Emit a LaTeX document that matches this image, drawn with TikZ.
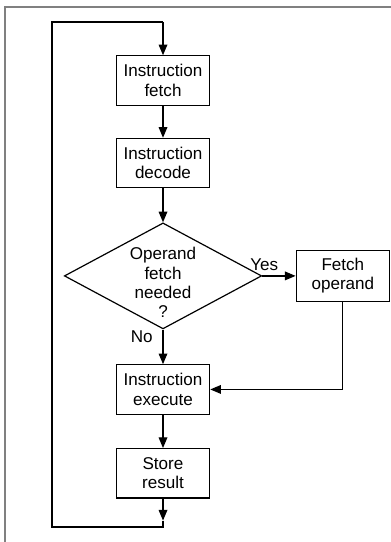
\documentclass[tikz,border=0pt]{standalone}
\usepackage{fontspec}
\setmainfont{Liberation Sans}
\usetikzlibrary{positioning, shapes.geometric, arrows.meta}

\begin{document}
\begin{tikzpicture}[x=0.75pt, y=-0.75pt,
    line width=0.9pt,
    font=\fontsize{12.8}{14.5}\selectfont,
    box/.style={draw, rectangle, align=center, minimum width=70pt, minimum height=37pt, inner sep=2pt},
    decision/.style={draw, diamond, aspect=1.86, minimum width=148pt, minimum height=79.5pt, inner sep=0pt},
    flow/.style={-{Triangle[length=8pt, width=6.5pt]}}]

    \useasboundingbox (0,0) rectangle (391,542);

    % Frame
    \draw[gray, line width=1.8pt] (5,542) -- (5,7) -- (391,7);

    % Main column
    \node [box] (fetch) at (163,80.5) {Instruction\\fetch};
    \node [box, below=24pt of fetch] (decode) {Instruction\\decode};
    \node [decision, below=25.5pt of decode] (needed)
        {\raisebox{-9.75pt}[0pt][0pt]{\begin{tabular}{@{}c@{}}Operand\\fetch\\needed\\?\end{tabular}}};
    \node [box, below=26pt of needed] (exec) {Instruction\\execute};
    \node [box, below=25pt of exec] (store) {Store\\result};

    % Side branch
    \node [box, right=25pt of needed, minimum height=38pt] (operand) {Fetch\\operand};

    % Loop corners
    \coordinate [below=16.5pt of store] (tip);
    \coordinate (bottomleft) at (52,527);
    \coordinate (topleft) at (52,22);
    \coordinate (topright) at (163,22);

    % Arrows down the column
    \draw[flow] (fetch) -- (decode);
    \draw[flow] (decode) -- (needed);
    \draw[flow] (needed) -- (exec) node[pos=0.2, left, xshift=-4pt] {No};
    \draw[flow] (exec) -- (store);

    % Yes branch
    \draw[flow] (needed.east) -- (operand.west) node[pos=0, above, xshift=1.5pt] {Yes};
    \draw[flow] (operand.south) |- (exec.east);

    % Back to the start
    \draw[flow] (store) -- (tip);
    \draw (tip) -- (tip |- bottomleft) -- (bottomleft) -- (topleft) -- (topright);
    \draw[flow] (topright) -- (fetch);

\end{tikzpicture}
\end{document}
